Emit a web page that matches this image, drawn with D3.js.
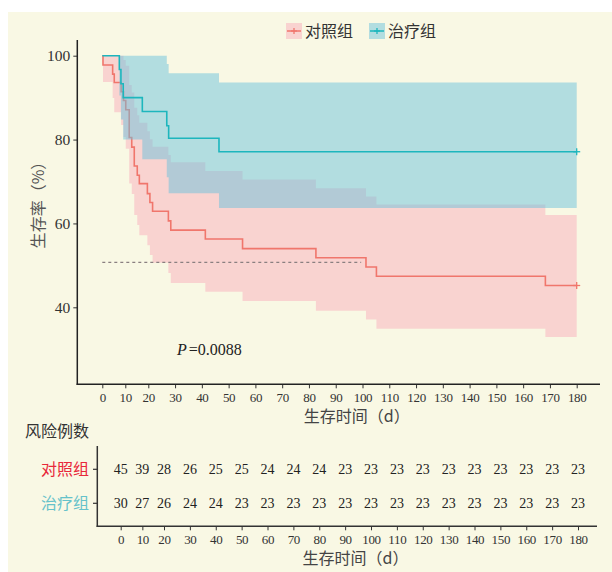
<!DOCTYPE html>
<html>
<head>
<meta charset="utf-8">
<script src="https://cdn.jsdelivr.net/npm/d3@7"></script>
<style>
  body { margin: 0; background: #fff; }
  svg text { font-family: "Liberation Serif", "Times New Roman", serif; }
  .cjk { font-family: "Noto Sans CJK SC", sans-serif; }
</style>
</head>
<body>
<div id="chart"></div>
<script>
// groepen
const groups = ['对照组', '治疗组']

// Kaplan-Meier stappen (dagen, %)
const ctrlTime  = [0, 0.3, 4.5, 5.2, 8.2, 9.2, 10.2, 11.7, 12.8, 13.9, 15.2, 16.1, 19.6, 20.6, 21.6, 27.5, 28.4, 41.3, 55.2, 82.6, 101.3, 105.2, 168.3]
const ctrlSurv  = [100, 97.8, 95.6, 93.6, 91.4, 89.3, 87.1, 80.5, 78.2, 73.7, 71.5, 69.5, 67.1, 65.0, 62.9, 60.6, 58.4, 56.3, 54.0, 51.8, 49.6, 47.4, 45.2]
const ctrlLower = [100, 93.7, 89.9, 86.5, 83.5, 80.6, 77.8, 69.5, 67.0, 62.0, 59.6, 57.2, 54.8, 52.5, 50.6, 48.2, 45.8, 43.7, 41.5, 39.2, 37.1, 34.9, 32.9]
const ctrlUpper = [100, 100, 100, 100, 100, 99.0, 97.6, 93.0, 91.2, 87.6, 85.8, 84.0, 82.0, 80.1, 78.3, 76.3, 74.6, 72.5, 70.5, 68.4, 66.4, 64.5, 62.0]

const treatTime  = [0, 7.4, 8.1, 9.1, 17.4, 26.9, 27.6, 46.4]
const treatSurv  = [100, 96.7, 93.3, 90.0, 86.7, 83.3, 80.3, 77.1]
const treatLower = [100, 90.5, 84.8, 80.0, 75.3, 71.0, 67.2, 63.7]
const treatUpper = [100, 100, 100, 100, 100, 98.0, 95.8, 93.6]

const endTime = 180
const medianLevel = 50.7
const medianTime = 99.5
const pLabel = '=0.0088'

// risicotabel
const riskTimes = d3.range(0, 181, 10)
const ctrlRisk  = [45, 39, 28, 26, 25, 25, 24, 24, 24, 23, 23, 23, 23, 23, 23, 23, 23, 23, 23]
const treatRisk = [30, 27, 26, 24, 24, 23, 23, 23, 23, 23, 23, 23, 23, 23, 23, 23, 23, 23, 23]
const yTicks = [40, 60, 80, 100]

const width = 612
const height = 572
const red = '#f0766c'
const teal = '#1db6bd'
const pinkFill = '#f9d3d0'
const tealFill = 'rgba(107,194,220,0.5)'

const svg = d3.select('#chart').append('svg')
    .attr('width', width).attr('height', height)

// achtergrond
svg.append('rect').attr('x', 8).attr('y', 12)
    .attr('width', width - 8).attr('height', height - 12)
    .attr('fill', '#f9f8e4')

// schalen (x-as loopt in de figuur niet helemaal lineair)
const x = d3.scaleLinear().domain([0, 20, 180]).range([102.3, 148.3, 576.7])
const y = d3.scaleLinear().domain([40, 100]).range([307.3, 55.7])
const xt = d3.scaleLinear().domain([0, 20, 180]).range([120.7, 164, 578])

const toRows = (t, s, lo, hi) => {
    const rows = t.map((d, i) => ({ t: d, s: s[i], lo: lo[i], hi: hi[i] }))
    const last = rows[rows.length - 1]
    rows.push({ t: endTime, s: last.s, lo: last.lo, hi: last.hi })
    return rows
}
const ctrl = toRows(ctrlTime, ctrlSurv, ctrlLower, ctrlUpper)
const treat = toRows(treatTime, treatSurv, treatLower, treatUpper)

const area = d3.area().curve(d3.curveStepAfter)
    .x(d => x(d.t)).y0(d => y(d.lo)).y1(d => y(d.hi))
const line = d3.line().curve(d3.curveStepAfter)
    .x(d => x(d.t)).y(d => y(d.s))

const plot = svg.append('g')

plot.append('path').attr('d', area(ctrl)).attr('fill', pinkFill)
plot.append('path').attr('d', line(ctrl)).attr('fill', 'none')
    .attr('stroke', red).attr('stroke-width', 1.6)
plot.append('path').attr('d', area(treat)).attr('fill', tealFill)
plot.append('path').attr('d', line(treat)).attr('fill', 'none')
    .attr('stroke', teal).attr('stroke-width', 1.6)

// mediaan lijn
plot.append('line')
    .attr('x1', x(0)).attr('x2', x(medianTime))
    .attr('y1', y(medianLevel)).attr('y2', y(medianLevel))
    .attr('stroke', '#8a7f80').attr('stroke-width', 1.2)
    .attr('stroke-dasharray', '3,3')

// censuur tekens
const plus = (g, cx, cy, color, s) => {
    g.append('line').attr('x1', cx - s).attr('x2', cx + s).attr('y1', cy).attr('y2', cy)
        .attr('stroke', color).attr('stroke-width', 1.3)
    g.append('line').attr('x1', cx).attr('x2', cx).attr('y1', cy - s).attr('y2', cy + s)
        .attr('stroke', color).attr('stroke-width', 1.3)
}
plus(plot, x(endTime), y(ctrl[ctrl.length - 1].s), red, 3.5)
plus(plot, x(endTime), y(treat[treat.length - 1].s), teal, 3.5)

// assen
const xAxis = d3.axisBottom(x).tickValues(riskTimes).tickSize(4).tickPadding(4)
const xAxisG = svg.append('g').attr('transform', 'translate(0,384.3)').call(xAxis)
xAxisG.select('.domain').remove()
xAxisG.selectAll('text').attr('font-size', 13).attr('fill', '#333')
    .attr('letter-spacing', -0.3)
xAxisG.selectAll('line').attr('stroke', '#333')

const yAxis = d3.axisLeft(y).tickValues(yTicks).tickSize(4).tickPadding(3)
const yAxisG = svg.append('g').attr('transform', 'translate(77.3,0)').call(yAxis)
yAxisG.select('.domain').remove()
yAxisG.selectAll('text').attr('font-size', 15.5).attr('fill', '#333')
yAxisG.selectAll('line').attr('stroke', '#333')

svg.append('line').attr('x1', 77.3).attr('x2', 77.3).attr('y1', 40).attr('y2', 385)
    .attr('stroke', '#222').attr('stroke-width', 1.5)
svg.append('line').attr('x1', 76.6).attr('x2', 600).attr('y1', 384.3).attr('y2', 384.3)
    .attr('stroke', '#222').attr('stroke-width', 1.5)

// as labels
svg.append('text').attr('class', 'cjk')
    .attr('transform', 'translate(44,201) rotate(-90)')
    .attr('text-anchor', 'middle').attr('font-size', 16).attr('fill', '#555')
    .text('生存率（%）')
svg.append('text').attr('class', 'cjk')
    .attr('x', 356.7).attr('y', 422).attr('text-anchor', 'middle')
    .attr('font-size', 16).attr('fill', '#444')
    .text('生存时间（d）')

// p waarde
const pt = svg.append('text').attr('x', 177).attr('y', 355)
    .attr('font-size', 16).attr('fill', '#222')
pt.append('tspan').attr('font-style', 'italic').text('P')
pt.append('tspan').attr('dx', 2).text(pLabel)

// legenda
const legend = svg.append('g')
const legendX = [286, 369]
const legendFills = [pinkFill, '#b2dde0']
const legendLines = [red, teal]
groups.forEach((name, i) => {
    const lg = legend.append('g').attr('transform', `translate(${legendX[i]},23)`)
    lg.append('rect').attr('width', 16).attr('height', 16).attr('fill', legendFills[i])
    lg.append('line').attr('x1', 1).attr('x2', 15).attr('y1', 8).attr('y2', 8)
        .attr('stroke', legendLines[i]).attr('stroke-width', 1.5)
    plus(lg, 8, 8, legendLines[i], 3)
    lg.append('text').attr('class', 'cjk').attr('x', 19).attr('y', 14)
        .attr('font-size', 16).attr('fill', '#333').text(name)
})

// risicotabel
svg.append('text').attr('class', 'cjk').attr('x', 25).attr('y', 437)
    .attr('font-size', 16).attr('fill', '#333').text('风险例数')

const rowY = [469.3, 503.3]
const rowColors = ['#e8283a', '#66c2ca']
const riskRows = [ctrlRisk, treatRisk]

svg.append('line').attr('x1', 97.3).attr('x2', 97.3).attr('y1', 446).attr('y2', 527)
    .attr('stroke', '#333').attr('stroke-width', 1.5)
svg.append('line').attr('x1', 96.6).attr('x2', 597).attr('y1', 526.3).attr('y2', 526.3)
    .attr('stroke', '#333').attr('stroke-width', 1.5)

groups.forEach((name, i) => {
    svg.append('line').attr('x1', 93).attr('x2', 97.3).attr('y1', rowY[i]).attr('y2', rowY[i])
        .attr('stroke', '#333').attr('stroke-width', 1.2)
    svg.append('text').attr('class', 'cjk').attr('x', 89).attr('y', rowY[i] + 5.5)
        .attr('text-anchor', 'end').attr('font-size', 16).attr('fill', rowColors[i])
        .text(name)
    svg.append('g').selectAll('text').data(riskRows[i]).enter().append('text')
        .attr('x', (d, j) => xt(riskTimes[j]))
        .attr('y', rowY[i] + 4.5)
        .attr('text-anchor', 'middle').attr('font-size', 14).attr('fill', '#222')
        .text(d => d)
})

const xtAxis = d3.axisBottom(xt).tickValues(riskTimes).tickSize(4).tickPadding(4)
const xtAxisG = svg.append('g').attr('transform', 'translate(0,526.3)').call(xtAxis)
xtAxisG.select('.domain').remove()
xtAxisG.selectAll('text').attr('font-size', 13).attr('fill', '#333')
    .attr('letter-spacing', -0.3)
xtAxisG.selectAll('line').attr('stroke', '#333')

svg.append('text').attr('class', 'cjk')
    .attr('x', 355.5).attr('y', 564).attr('text-anchor', 'middle')
    .attr('font-size', 16).attr('fill', '#444')
    .text('生存时间（d）')
</script>
</body>
</html>
